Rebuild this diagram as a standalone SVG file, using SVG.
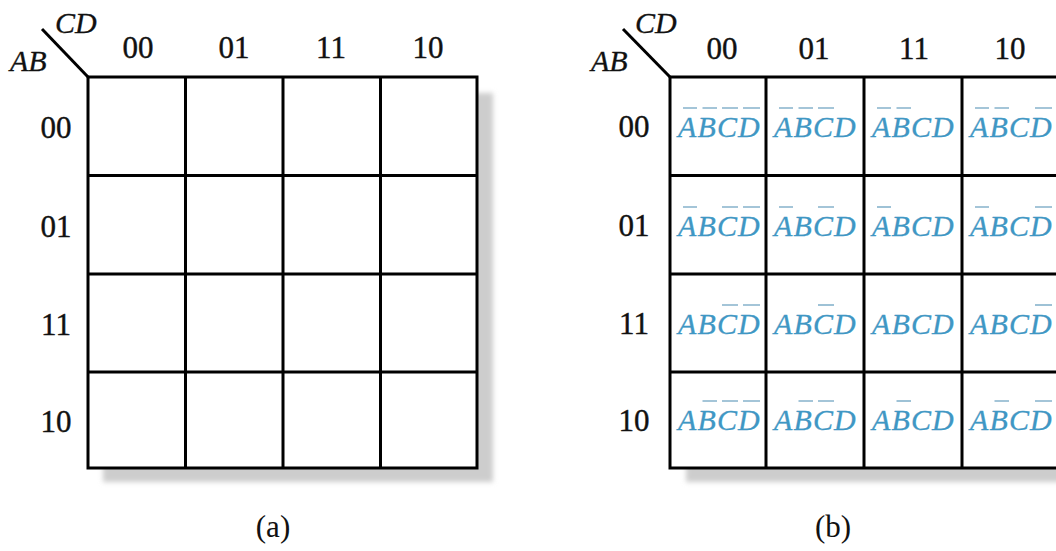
<svg xmlns="http://www.w3.org/2000/svg" width="1056" height="551" viewBox="0 0 1056 551">
<style>
.lbl{font-family:"Liberation Serif","Times New Roman",serif;font-size:31px;fill:#111;stroke:#111;stroke-width:0.4;text-anchor:middle}
.cap{font-family:"Liberation Serif","Times New Roman",serif;font-size:31px;fill:#111;text-anchor:middle}
.var{font-family:"Liberation Serif","Times New Roman",serif;font-size:30px;font-style:italic;fill:#111;stroke:#111;stroke-width:0.3}
.m{font-family:"Liberation Serif","Times New Roman",serif;font-size:30px;font-style:italic;fill:#3f97c4;stroke:#3f97c4;stroke-width:0.3}
.bar{stroke:#86b3cc;stroke-width:1.6;fill:none}
.grid{stroke:#000;stroke-width:3;fill:none}
.cellbg{fill:#fff}
</style>
<defs>
<filter id="sh" x="-10%" y="-10%" width="120%" height="120%"><feGaussianBlur stdDeviation="2.5"/></filter>
</defs>
<rect width="1056" height="551" fill="#fff"/>

<g id="map-a">
<rect x="103" y="93" width="390" height="389" fill="#cdcdcd" filter="url(#sh)"/>
<rect class="cellbg" x="88" y="77" width="389" height="391"/>
<path class="grid" d="M88 77H477V468H88Z M185.5 77V468 M283 77V468 M380.5 77V468 M88 175.5H477 M88 274H477 M88 372H477"/>
<text class="var" x="55" y="33">CD</text>
<text class="var" x="10" y="71">AB</text>
<text class="lbl" x="138" y="58">00</text>
<text class="lbl" x="234" y="58">01</text>
<text class="lbl" x="331" y="58">11</text>
<text class="lbl" x="428" y="58">10</text>
<text class="lbl" x="56" y="138">00</text>
<text class="lbl" x="56" y="237">01</text>
<text class="lbl" x="56" y="335">11</text>
<text class="lbl" x="56" y="432">10</text>
</g>

<g id="map-b">
<rect x="686" y="93" width="390" height="389" fill="#cdcdcd" filter="url(#sh)"/>
<rect class="cellbg" x="670" y="77" width="389" height="391"/>
<path class="grid" d="M670 77H1059V468H670Z M766 77V468 M864 77V468 M962 77V468 M670 175.5H1059 M670 274H1059 M670 372H1059"/>
<text class="var" x="635" y="33">CD</text>
<text class="var" x="591" y="71">AB</text>
<text class="lbl" x="722" y="59">00</text>
<text class="lbl" x="814" y="59">01</text>
<text class="lbl" x="914" y="59">11</text>
<text class="lbl" x="1010" y="59">10</text>
<text class="lbl" x="634" y="137">00</text>
<text class="lbl" x="634" y="236">01</text>
<text class="lbl" x="634" y="334">11</text>
<text class="lbl" x="634" y="431">10</text>

<g id="b-r0c0"><text class="m" y="137"><tspan x="678">A</tspan><tspan x="697.5">B</tspan><tspan x="717">C</tspan><tspan x="738">D</tspan></text><path class="bar" d="M683 108H697M702.5 108H717M722 108H738M743 108H760"/></g>
<g id="b-r0c1"><text class="m" y="137"><tspan x="774">A</tspan><tspan x="793.5">B</tspan><tspan x="813">C</tspan><tspan x="834">D</tspan></text><path class="bar" d="M779 108H793M798.5 108H813M818 108H834"/></g>
<g id="b-r0c2"><text class="m" y="137"><tspan x="872">A</tspan><tspan x="891.5">B</tspan><tspan x="911">C</tspan><tspan x="932">D</tspan></text><path class="bar" d="M877 108H891M896.5 108H911"/></g>
<g id="b-r0c3"><text class="m" y="137"><tspan x="970">A</tspan><tspan x="989.5">B</tspan><tspan x="1009">C</tspan><tspan x="1030">D</tspan></text><path class="bar" d="M975 108H989M994.5 108H1009M1035 108H1052"/></g>

<g id="b-r1c0"><text class="m" y="236"><tspan x="678">A</tspan><tspan x="697.5">B</tspan><tspan x="717">C</tspan><tspan x="738">D</tspan></text><path class="bar" d="M683 207H697M722 207H738M743 207H760"/></g>
<g id="b-r1c1"><text class="m" y="236"><tspan x="774">A</tspan><tspan x="793.5">B</tspan><tspan x="813">C</tspan><tspan x="834">D</tspan></text><path class="bar" d="M779 207H793M818 207H834"/></g>
<g id="b-r1c2"><text class="m" y="236"><tspan x="872">A</tspan><tspan x="891.5">B</tspan><tspan x="911">C</tspan><tspan x="932">D</tspan></text><path class="bar" d="M877 207H891"/></g>
<g id="b-r1c3"><text class="m" y="236"><tspan x="970">A</tspan><tspan x="989.5">B</tspan><tspan x="1009">C</tspan><tspan x="1030">D</tspan></text><path class="bar" d="M975 207H989M1035 207H1052"/></g>

<g id="b-r2c0"><text class="m" y="334"><tspan x="678">A</tspan><tspan x="697.5">B</tspan><tspan x="717">C</tspan><tspan x="738">D</tspan></text><path class="bar" d="M722 305H738M743 305H760"/></g>
<g id="b-r2c1"><text class="m" y="334"><tspan x="774">A</tspan><tspan x="793.5">B</tspan><tspan x="813">C</tspan><tspan x="834">D</tspan></text><path class="bar" d="M818 305H834"/></g>
<g id="b-r2c2"><text class="m" y="334"><tspan x="872">A</tspan><tspan x="891.5">B</tspan><tspan x="911">C</tspan><tspan x="932">D</tspan></text></g>
<g id="b-r2c3"><text class="m" y="334"><tspan x="970">A</tspan><tspan x="989.5">B</tspan><tspan x="1009">C</tspan><tspan x="1030">D</tspan></text><path class="bar" d="M1035 305H1052"/></g>

<g id="b-r3c0"><text class="m" y="430"><tspan x="678">A</tspan><tspan x="697.5">B</tspan><tspan x="717">C</tspan><tspan x="738">D</tspan></text><path class="bar" d="M702.5 401H717M722 401H738M743 401H760"/></g>
<g id="b-r3c1"><text class="m" y="430"><tspan x="774">A</tspan><tspan x="793.5">B</tspan><tspan x="813">C</tspan><tspan x="834">D</tspan></text><path class="bar" d="M798.5 401H813M818 401H834"/></g>
<g id="b-r3c2"><text class="m" y="430"><tspan x="872">A</tspan><tspan x="891.5">B</tspan><tspan x="911">C</tspan><tspan x="932">D</tspan></text><path class="bar" d="M896.5 401H911"/></g>
<g id="b-r3c3"><text class="m" y="430"><tspan x="970">A</tspan><tspan x="989.5">B</tspan><tspan x="1009">C</tspan><tspan x="1030">D</tspan></text><path class="bar" d="M994.5 401H1009M1035 401H1052"/></g>
</g>

<g id="connectors">
<path class="grid" d="M42 29L88 77"/>
<path class="grid" d="M623 29L670 77"/>
</g>

<text class="cap" x="273" y="537">(a)</text>
<text class="cap" x="833" y="537">(b)</text>
</svg>
